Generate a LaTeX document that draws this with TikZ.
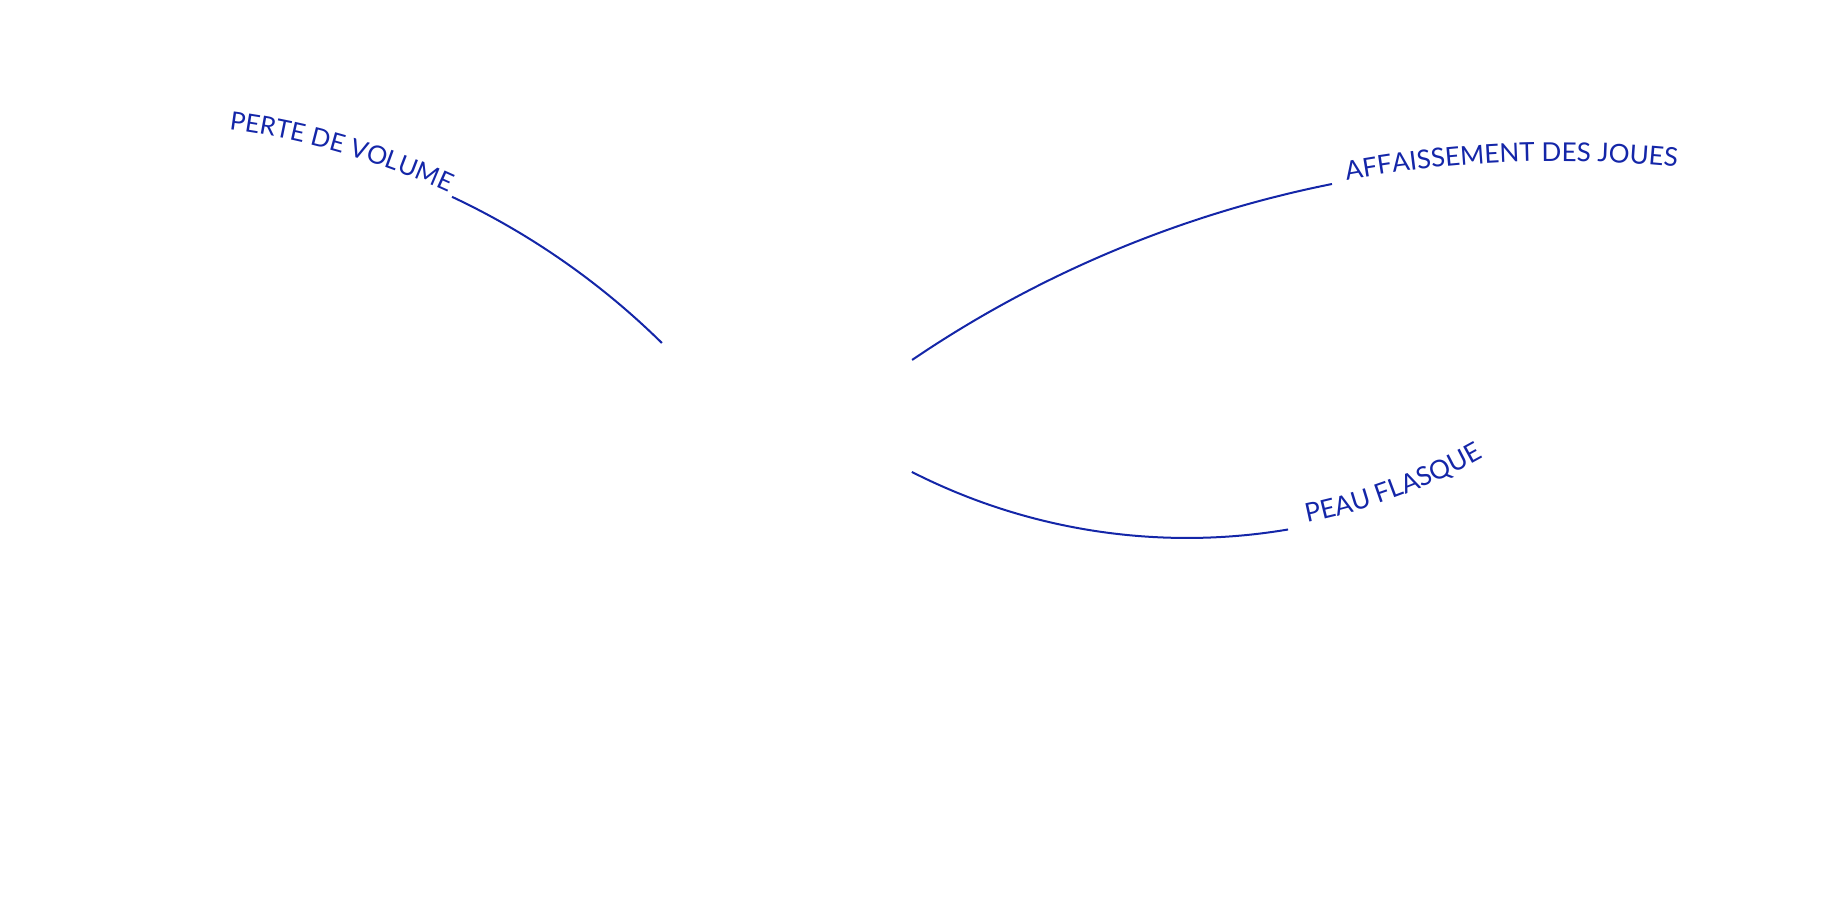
\documentclass[tikz,border=0pt]{standalone}
\usepackage{fontspec}
\setmainfont{Lato}
\usetikzlibrary{decorations.text}
\definecolor{ink}{RGB}{20,38,168}
\newcommand{\lbl}{\fontsize{26}{31}\selectfont\color{ink}}
\newcommand{\lblsm}{\fontsize{25.3}{30}\selectfont\color{ink}}
\begin{document}
\begin{tikzpicture}[x=1pt,y=1pt,
  arcline/.style={draw=ink, line width=2pt},
  arclabel/.style={decorate, decoration={text along path, text align=left, text={|\lbl|#1}}},
  arclabelsm/.style={decorate, decoration={text along path, text align=left, text={|\lblsm|#1}}}]
\useasboundingbox (0,0) rectangle (1836,919);
\coordinate (c1) at (130,36);
\coordinate (c2) at (1557,-391);
\coordinate (c3) at (1187,987);
% perte de volume
\draw[arcline] (c1) ++(64.86:758) arc[start angle=64.86, end angle=45.43, radius=758];
\path[arclabelsm={PERTE DE VOLUME}] (c1) ++(82.5:760) arc[start angle=82.5, end angle=55, radius=760];
% affaissement des joues
\draw[arcline] (c2) ++(124.17:1148.3) arc[start angle=124.17, end angle=101.30, radius=1148.3];
\path[arclabel={AFFAISSEMENT DES JOUES}] (c2) ++(100.55:1149) arc[start angle=100.55, end angle=75, radius=1149];
% peau flasque
\draw[arcline] (c3) ++(243.0:606) arc[start angle=243.0, end angle=279.6, radius=606];
\path[arclabel={PEAU FLASQUE}] (c3) ++(281.5:603) arc[start angle=281.5, end angle=310, radius=603];
\end{tikzpicture}
\end{document}
